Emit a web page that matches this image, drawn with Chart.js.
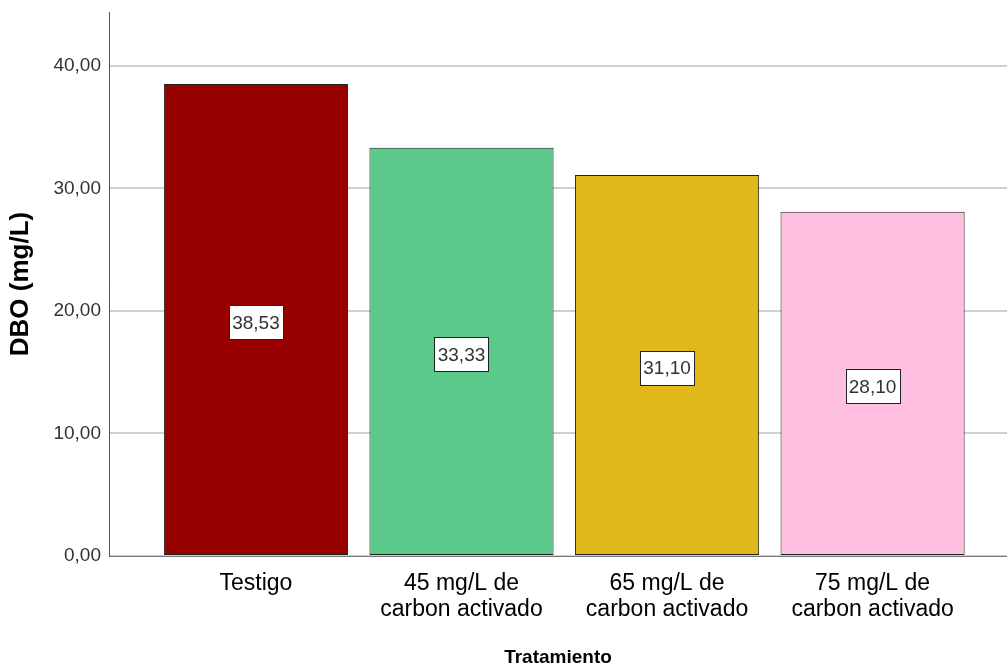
<!DOCTYPE html>
<html>
<head>
<meta charset="utf-8">
<script src="https://cdn.jsdelivr.net/npm/chart.js@4.4.0/dist/chart.umd.min.js"></script>
<style>
  html, body { margin: 0; padding: 0; background: #fff; }
  #wrap { width: 1007px; height: 665px; position: relative; }
</style>
</head>
<body>
<div id="wrap"><canvas id="c"></canvas></div>
<script>
// Tratamientos y DBO medida (mg/L)
const categories = ['Testigo', '45 mg/L de\ncarbon activado', '65 mg/L de\ncarbon activado', '75 mg/L de\ncarbon activado'];
const dboValues = [38.53, 33.33, 31.10, 28.10];
const barColors = ['#990000', '#5BC98A', '#E0B81B', '#FFBFE0'];
const yTicks = [0, 10, 20, 30, 40];

const fmt = v => v.toFixed(2).replace('.', ',');

// Etiqueta con recuadro blanco en el centro de cada barra
const valueBoxes = {
  id: 'valueBoxes',
  afterDatasetsDraw(chart) {
    const ctx = chart.ctx;
    const meta = chart.getDatasetMeta(0);
    ctx.save();
    ctx.font = '19px "Liberation Sans", Arial, sans-serif';
    ctx.textAlign = 'center';
    ctx.textBaseline = 'middle';
    meta.data.forEach((bar, i) => {
      const txt = fmt(dboValues[i]);
      const cx = bar.x;
      const cy = (bar.y + bar.base) / 2 + 3;
      const w = Math.round(ctx.measureText(txt).width + 6);
      const h = 34;
      const x0 = Math.round(cx - w / 2) + 0.5;
      const y0 = Math.round(cy - h / 2) + 0.5;
      ctx.fillStyle = '#fff';
      ctx.fillRect(x0, y0, w, h);
      ctx.strokeStyle = '#222';
      ctx.lineWidth = 1;
      ctx.strokeRect(x0, y0, w, h);
      ctx.fillStyle = '#333';
      ctx.fillText(txt, cx, cy + 1);
    });
    ctx.restore();
  }
};

new Chart(document.getElementById('c'), {
  type: 'bar',
  data: {
    datasets: [{
      data: dboValues.map((v, i) => ({ x: i, y: v })),
      backgroundColor: barColors,
      borderColor: '#222',
      borderWidth: 1,
      borderSkipped: false,
      categoryPercentage: 1,
      barPercentage: 0.896
    }]
  },
  options: {
    responsive: true,
    maintainAspectRatio: false,
    animation: false,
    layout: { padding: { top: 12, right: 0, left: 0, bottom: 0 } },
    plugins: { legend: { display: false }, tooltip: { enabled: false } },
    scales: {
      x: {
        type: 'linear',
        offset: false,
        min: -0.715,
        max: 3.654,
        afterBuildTicks: s => { s.ticks = categories.map((_, i) => ({ value: i })); },
        afterFit: s => { s.height = 109; s.paddingLeft = 0; s.paddingRight = 0; },
        grid: { display: false, drawTicks: false },
        border: { display: true, color: '#777', width: 1 },
        ticks: {
          autoSkip: false,
          maxRotation: 0,
          padding: 15,
          color: '#000',
          font: { family: '"Liberation Sans", Arial, sans-serif', size: 23, lineHeight: 1.13 },
          callback: v => categories[v] !== undefined ? categories[v].split('\n') : ''
        },
        title: {
          display: true,
          text: 'Tratamiento',
          color: '#000',
          font: { family: '"Liberation Sans", Arial, sans-serif', size: 19, weight: 'bold', lineHeight: 0.8 },
          padding: { top: 0, bottom: 0 }
        }
      },
      y: {
        min: 0,
        max: 44.4,
        afterBuildTicks: s => { s.ticks = yTicks.map(v => ({ value: v })); },
        afterFit: s => { s.width = 109; s.paddingTop = 0; s.paddingBottom = 0; },
        grid: { color: '#d0d0d0', lineWidth: 2, drawTicks: false },
        border: { display: true, color: '#555', width: 1 },
        ticks: {
          padding: 8,
          color: '#333',
          font: { family: '"Liberation Sans", Arial, sans-serif', size: 19 },
          callback: v => fmt(v)
        },
        title: {
          display: true,
          text: 'DBO (mg/L)',
          color: '#000',
          font: { family: '"Liberation Sans", Arial, sans-serif', size: 26, weight: 'bold' },
          padding: { top: 5, bottom: 0 }
        }
      }
    }
  },
  plugins: [valueBoxes]
});
</script>
</body>
</html>
